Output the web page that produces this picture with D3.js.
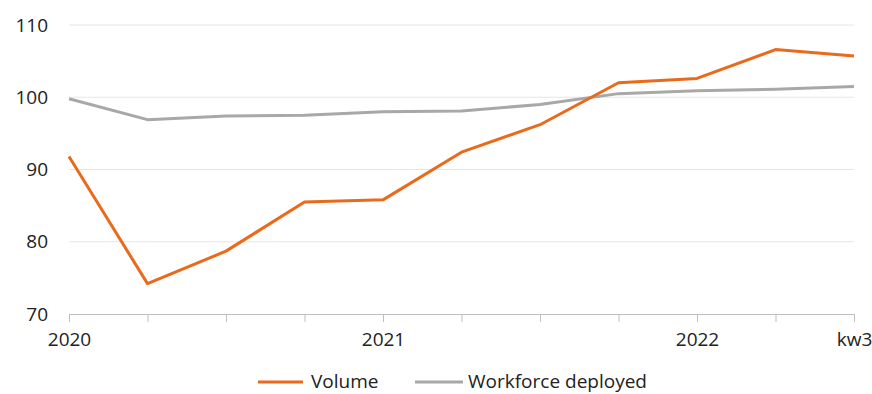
<!DOCTYPE html>
<html>
<head>
<meta charset="utf-8">
<script src="https://cdn.jsdelivr.net/npm/d3@7"></script>
<style>
  html, body { margin: 0; padding: 0; background: #fff; }
  svg { display: block; }
  text { font-family: "Open Sans", "Noto Sans", sans-serif; fill: #222; }
</style>
</head>
<body>
<svg id="chart" width="872" height="394"></svg>
<script>
// Quarterly points, 2020 Q1 through 2022 kw3
const periods = ["2020Q1","2020Q2","2020Q3","2020Q4","2021Q1","2021Q2","2021Q3","2021Q4","2022Q1","2022Q2","kw3"];
const volume = [91.8, 74.2, 78.7, 85.5, 85.8, 92.4, 96.2, 102.0, 102.6, 106.6, 105.7];
const workforce = [99.8, 96.9, 97.4, 97.5, 98.0, 98.1, 99.0, 100.5, 100.9, 101.1, 101.5];
const xTickLabels = { "2020Q1": "2020", "2021Q1": "2021", "2022Q1": "2022", "kw3": "kw3" };
const yTicks = [70, 80, 90, 100, 110];
const seriesNames = ["Volume", "Workforce deployed"];
const seriesColors = ["#ea6a1c", "#a8a8a8"];

const svg = d3.select("#chart");
const plot = { left: 69, right: 854, top: 25, bottom: 314 };
const fontSize = 19;

const x = d3.scalePoint().domain(periods).range([plot.left, plot.right]);
const y = d3.scaleLinear().domain([70, 110]).range([plot.bottom, plot.top]);

// horizontal gridlines
svg.append("g")
  .selectAll("line")
  .data(yTicks.filter(d => d > 70))
  .join("line")
  .attr("x1", plot.left).attr("x2", plot.right)
  .attr("y1", d => y(d)).attr("y2", d => y(d))
  .attr("stroke", "#e6e6e6").attr("stroke-width", 1);

// y axis labels
const yAxis = svg.append("g")
  .attr("transform", `translate(${plot.left},0)`)
  .call(d3.axisLeft(y).tickValues(yTicks).tickSize(0).tickPadding(21));
yAxis.select(".domain").remove();
yAxis.selectAll("text")
  .attr("font-size", fontSize)
  .attr("font-family", "'Open Sans', 'Noto Sans', sans-serif")
  .attr("fill", "#222");

// x axis
const xAxis = svg.append("g")
  .attr("transform", `translate(0,${plot.bottom})`)
  .call(d3.axisBottom(x).tickSize(8).tickPadding(11)
    .tickFormat(d => xTickLabels[d] || ""));
xAxis.select(".domain")
  .attr("d", `M${plot.left},0.5H${plot.right}`)
  .attr("stroke", "#bfbfbf");
xAxis.selectAll(".tick line").attr("stroke", "#bfbfbf");
xAxis.selectAll("text")
  .attr("font-size", fontSize)
  .attr("font-family", "'Open Sans', 'Noto Sans', sans-serif")
  .attr("fill", "#222");

// lines
const line = d3.line()
  .x((d, i) => x(periods[i]))
  .y(d => y(d));

[[workforce, seriesColors[1]], [volume, seriesColors[0]]].forEach(([vals, color]) => {
  svg.append("path")
    .datum(vals)
    .attr("fill", "none")
    .attr("stroke", color)
    .attr("stroke-width", 3)
    .attr("stroke-linejoin", "round")
    .attr("d", line);
});

// legend
const legendItems = [
  { name: seriesNames[0], color: seriesColors[0], x1: 258, x2: 303, tx: 311 },
  { name: seriesNames[1], color: seriesColors[1], x1: 415, x2: 463, tx: 468 }
];
const lg = svg.append("g");
legendItems.forEach(it => {
  lg.append("line")
    .attr("x1", it.x1).attr("x2", it.x2)
    .attr("y1", 382).attr("y2", 382)
    .attr("stroke", it.color).attr("stroke-width", 3);
  lg.append("text")
    .attr("x", it.tx).attr("y", 388)
    .attr("font-size", fontSize)
    .text(it.name);
});
</script>
</body>
</html>
